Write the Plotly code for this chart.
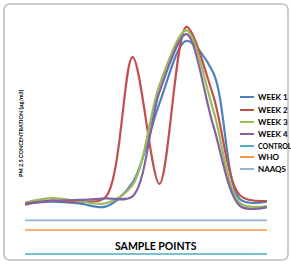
import plotly.graph_objects as go

sample_points = ["1", "2", "3", "4", "5", "6", "7", "8", "9", "10"]
week1 = [52.6, 54.5, 52.8, 49.3, 74.3, 157.0, 222.0, 189.0, 57.0, 54.5]
week2 = [51.5, 55.5, 54.5, 59.4, 205.0, 73.0, 236.5, 165.0, 61.0, 55.2]
week3 = [53.6, 58.3, 55.2, 52.8, 72.0, 176.0, 233.0, 150.0, 53.0, 50.0]
week4 = [52.6, 55.5, 56.3, 58.0, 60.0, 169.0, 229.0, 134.0, 50.0, 48.6]
control = [0] * 10
who = [25] * 10
naaqs = [35] * 10

series = [
    ("WEEK 1", week1, "#4F81BD", 2.2),
    ("WEEK 2", week2, "#C0504D", 2.2),
    ("WEEK 3", week3, "#9BBB59", 2.2),
    ("WEEK 4", week4, "#8064A2", 2.2),
    ("CONTROL", control, "#4BACC6", 1.6),
    ("WHO", who, "#F79646", 1.6),
    ("NAAQS", naaqs, "#95B3D7", 1.6),
]

fig = go.Figure()
for name, vals, color, w in series:
    fig.add_trace(go.Scatter(
        x=sample_points, y=vals, name=name, mode="lines",
        line=dict(color=color, width=w, shape="spline", smoothing=0.9),
        showlegend=False, hoverinfo="skip",
    ))

W, H = 291, 266
L, R, T, B = 25, 24, 20, 10
pw, ph = W - L - R, H - T - B

def px(X):
    return (X - L) / pw

def py(Y):
    return (H - B - Y) / ph

x0, x1, y0, y1, r = 4, 288, 4, 260, 6
path = (
    f"M {px(x0 + r)},{py(y0)} L {px(x1 - r)},{py(y0)} "
    f"Q {px(x1)},{py(y0)} {px(x1)},{py(y0 + r)} "
    f"L {px(x1)},{py(y1 - r)} Q {px(x1)},{py(y1)} {px(x1 - r)},{py(y1)} "
    f"L {px(x0 + r)},{py(y1)} Q {px(x0)},{py(y1)} {px(x0)},{py(y1 - r)} "
    f"L {px(x0)},{py(y0 + r)} Q {px(x0)},{py(y0)} {px(x0 + r)},{py(y0)} Z"
)
shapes = [dict(type="path", xref="paper", yref="paper", path=path,
               line=dict(color="#BDBDBD", width=1.5), layer="below")]
annotations = [
    dict(text="SAMPLE POINTS", xref="paper", yref="paper",
         x=px(156), y=py(246), yanchor="middle", showarrow=False,
         font=dict(size=10.5, family="Lato", weight="bold")),
    dict(text="PM 2.5 CONCENTRATION (\u00b5g/m3)", xref="paper", yref="paper",
         x=px(16), y=py(133), showarrow=False, textangle=-90,
         font=dict(size=5.5, family="Lato", weight="bold")),
]

# custom compact legend
leg_y = [97, 110, 122, 134, 146, 157, 169]
leg_size = [8, 8, 8, 8, 7, 8, 8]
for (name, vals, color, w), yy, fs in zip(series, leg_y, leg_size):
    shapes.append(dict(type="line", xref="paper", yref="paper",
                       x0=px(240), x1=px(254), y0=py(yy), y1=py(yy),
                       line=dict(color=color, width=2)))
    annotations.append(dict(text=name, xref="paper", yref="paper",
                            x=px(256), y=py(yy), xanchor="left", yanchor="middle",
                            showarrow=False,
                            font=dict(size=fs, family="Lato", weight="bold")))

fig.update_layout(
    width=W, height=H,
    margin=dict(l=L, r=R, t=T, b=B, autoexpand=False),
    paper_bgcolor="white", plot_bgcolor="white",
    font=dict(family="Lato", color="black"),
    showlegend=False,
    hovermode=False,
    xaxis=dict(range=[0, 9], showticklabels=False, showgrid=False, zeroline=False,
               showline=False, ticks=""),
    yaxis=dict(range=[-2.08, 243.75], showticklabels=False, showgrid=False,
               zeroline=False, showline=False, ticks=""),
    shapes=shapes,
    annotations=annotations,
)

fig.write_html("out.html", config={"displayModeBar": False},
               post_script="document.body.style.margin='0';")
